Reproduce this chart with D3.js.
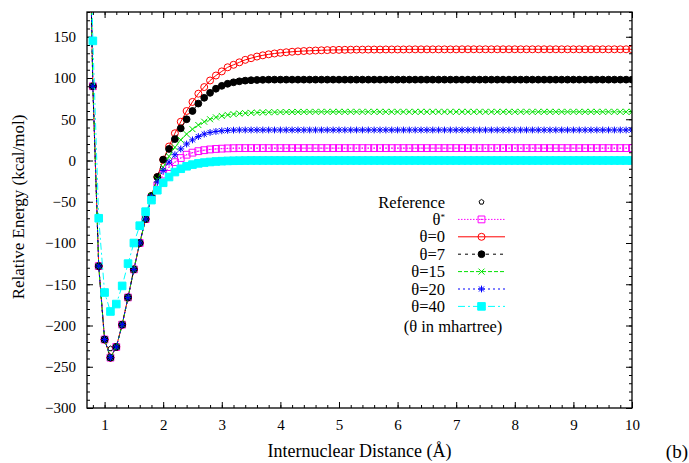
<!DOCTYPE html>
<html>
<head>
<meta charset="utf-8">
<script src="https://cdn.jsdelivr.net/npm/d3@7"></script>
<style>
  body { margin: 0; background: #fff; }
  text { font-family: "Liberation Serif", "Times New Roman", Times, "DejaVu Serif", serif; fill: #000; }
</style>
</head>
<body>
<svg id="chart" width="689" height="463"></svg>
<script>
// internuclear distance grid (angstrom)
const distance = [
  0.7, 0.8, 0.9, 1.0, 1.1, 1.2, 1.3, 1.4, 1.5, 1.6,
  1.7, 1.8, 1.9, 2.0, 2.1, 2.2, 2.3, 2.4, 2.5, 2.6,
  2.7, 2.8, 2.9, 3.0, 3.1, 3.2, 3.3, 3.4, 3.5, 3.6,
  3.7, 3.8, 3.9, 4.0, 4.1, 4.2, 4.3, 4.4, 4.5, 4.6,
  4.7, 4.8, 4.9, 5.0, 5.1, 5.2, 5.3, 5.4, 5.5, 5.6,
  5.7, 5.8, 5.9, 6.0, 6.1, 6.2, 6.3, 6.4, 6.5, 6.6,
  6.7, 6.8, 6.9, 7.0, 7.1, 7.2, 7.3, 7.4, 7.5, 7.6,
  7.7, 7.8, 7.9, 8.0, 8.1, 8.2, 8.3, 8.4, 8.5, 8.6,
  8.7, 8.8, 8.9, 9.0, 9.1, 9.2, 9.3, 9.4, 9.5, 9.6,
  9.7, 9.8, 9.9, 10.0
];

const reference = [
  455, 90, -128, -217, -228, -227, -199, -166, -132, -100,
  -71, -45, -34, -26, -20, -14, -10, -7, -5, -3.5,
  -2.5, -1.8, -1.2, -0.8, -0.5, -0.3, -0.2, -0.1, 0, 0,
  0, 0, 0, 0, 0, 0, 0, 0, 0, 0,
  0, 0, 0, 0, 0, 0, 0, 0, 0, 0,
  0, 0, 0, 0, 0, 0, 0, 0, 0, 0,
  0, 0, 0, 0, 0, 0, 0, 0, 0, 0,
  0, 0, 0, 0, 0, 0, 0, 0, 0, 0,
  0, 0, 0, 0, 0, 0, 0, 0, 0, 0,
  0, 0, 0, 0
];

const thetaStar = [
  455, 90, -128, -217, -239, -226, -199, -166, -132, -100,
  -71, -45, -30, -17, -8, -2, 3, 7, 9.5, 11.3,
  12.5, 13.4, 14, 14.4, 14.7, 14.9, 15, 15, 15, 15,
  15, 15, 15, 15, 15, 15, 15, 15, 15, 15,
  15, 15, 15, 15, 15, 15, 15, 15, 15, 15,
  15, 15, 15, 15, 15, 15, 15, 15, 15, 15,
  15, 15, 15, 15, 15, 15, 15, 15, 15, 15,
  15, 15, 15, 15, 15, 15, 15, 15, 15, 15,
  15, 15, 15, 15, 15, 15, 15, 15, 15, 15,
  15, 15, 15, 15
];

const theta0 = [
  455, 90, -128, -217, -239, -226, -199, -166, -132, -100,
  -71, -43, -20, 1, 17, 33, 47, 60, 71, 81,
  89, 97, 103, 108, 113, 116, 119, 122, 124, 126,
  127.5, 128.7, 129.7, 130.5, 131.2, 131.8, 132.3, 132.7, 133, 133.3,
  133.6, 133.8, 134, 134.1, 134.2, 134.3, 134.4, 134.4, 134.5, 134.5,
  134.5, 134.6, 134.6, 134.6, 134.6, 134.7, 134.7, 134.7, 134.7, 134.7,
  134.7, 134.7, 134.7, 134.7, 134.8, 134.8, 134.8, 134.8, 134.8, 134.8,
  134.8, 134.8, 134.8, 134.8, 134.8, 134.8, 134.8, 134.8, 134.8, 134.8,
  134.8, 134.8, 134.8, 134.8, 134.8, 134.8, 134.8, 134.8, 134.8, 134.8,
  134.8, 134.8, 134.8, 134.8
];

const theta7 = [
  455, 90, -128, -217, -239, -226, -199, -166, -132, -100,
  -71, -43, -20, 1, 14, 26, 39, 50, 60, 69,
  76, 82, 87, 90.5, 93, 94.8, 96, 96.8, 97.3, 97.6,
  97.8, 98, 98, 98, 98, 98, 98, 98, 98, 98,
  98, 98, 98, 98, 98, 98, 98, 98, 98, 98,
  98, 98, 98, 98, 98, 98, 98, 98, 98, 98,
  98, 98, 98, 98, 98, 98, 98, 98, 98, 98,
  98, 98, 98, 98, 98, 98, 98, 98, 98, 98,
  98, 98, 98, 98, 98, 98, 98, 98, 98, 98,
  98, 98, 98, 98
];

const theta15 = [
  455, 90, -128, -217, -239, -226, -199, -166, -132, -100,
  -71, -43, -23, -8, 5, 16, 25, 32, 38, 43,
  47, 50, 52.3, 54, 55.3, 56.2, 56.9, 57.4, 57.8, 58.1,
  58.3, 58.5, 58.6, 58.7, 58.8, 58.8, 58.9, 58.9, 58.9, 59,
  59, 59, 59, 59, 59, 59, 59, 59, 59, 59,
  59, 59, 59, 59, 59, 59, 59, 59, 59, 59,
  59, 59, 59, 59, 59, 59, 59, 59, 59, 59,
  59, 59, 59, 59, 59, 59, 59, 59, 59, 59,
  59, 59, 59, 59, 59, 59, 59, 59, 59, 59,
  59, 59, 59, 59
];

const theta20 = [
  455, 90, -128, -217, -239, -226, -199, -166, -132, -100,
  -71, -44, -26, -12, -2, 7, 14, 20, 25, 29,
  32, 34, 35.2, 36, 36.5, 36.8, 37, 37, 37, 37,
  37, 37, 37, 37, 37, 37, 37, 37, 37, 37,
  37, 37, 37, 37, 37, 37, 37, 37, 37, 37,
  37, 37, 37, 37, 37, 37, 37, 37, 37, 37,
  37, 37, 37, 37, 37, 37, 37, 37, 37, 37,
  37, 37, 37, 37, 37, 37, 37, 37, 37, 37,
  37, 37, 37, 37, 37, 37, 37, 37, 37, 37,
  37, 37, 37, 37
];

const theta40 = [
  500, 145, -70, -160, -183, -174, -152, -125, -100, -79,
  -62, -48, -36, -27, -20, -14, -10, -7, -5, -3.5,
  -2.5, -1.8, -1.2, -0.8, -0.5, -0.3, -0.2, -0.1, 0, 0,
  0, 0, 0, 0, 0, 0, 0, 0, 0, 0,
  0, 0, 0, 0, 0, 0, 0, 0, 0, 0,
  0, 0, 0, 0, 0, 0, 0, 0, 0, 0,
  0, 0, 0, 0, 0, 0, 0, 0, 0, 0,
  0, 0, 0, 0, 0, 0, 0, 0, 0, 0,
  0, 0, 0, 0, 0, 0, 0, 0, 0, 0,
  0, 0, 0, 0
];

const xTicks = [1, 2, 3, 4, 5, 6, 7, 8, 9, 10];
const yTicks = [150, 100, 50, 0, -50, -100, -150, -200, -250, -300];

const serif = '"Liberation Serif", "Times New Roman", Times, "DejaVu Serif", serif';

// marker shapes, centred on 0,0
const markers = {
  pentagon: r => {
    const pts = d3.range(5).map(i => {
      const a = -Math.PI / 2 + i * 2 * Math.PI / 5;
      return [r * Math.cos(a), r * Math.sin(a)];
    });
    return 'M' + pts.join('L') + 'Z';
  },
  square: r => `M${-r},${-r}h${2 * r}v${2 * r}h${-2 * r}Z`,
  circle: r => `M${-r},0a${r},${r} 0 1 0 ${2 * r},0a${r},${r} 0 1 0 ${-2 * r},0Z`,
  cross: r => `M${-r},${-r}L${r},${r}M${-r},${r}L${r},${-r}`,
  star: r => `M${-r},0H${r}M0,${-r}V${r}M${-r * 0.75},${-r * 0.75}L${r * 0.75},${r * 0.75}M${-r * 0.75},${r * 0.75}L${r * 0.75},${-r * 0.75}`,
};

const series = [
  { name: 'Reference', values: reference, color: '#000', dash: null, line: false, marker: 'pentagon', size: 2.6, fill: 'none' },
  { name: 'θ*', values: thetaStar, color: '#ff00ff', dash: '1.5,1.5', line: true, marker: 'square', size: 3.4, fill: 'none', dot: true },
  { name: 'θ=0', values: theta0, color: '#ff0000', dash: null, line: true, marker: 'circle', size: 3.5, fill: 'none' },
  { name: 'θ=7', values: theta7, color: '#000', dash: '3,4', line: true, marker: 'circle', size: 3.4, fill: '#000' },
  { name: 'θ=15', values: theta15, color: '#00e000', dash: '4,2', line: true, marker: 'cross', size: 3, fill: 'none' },
  { name: 'θ=20', values: theta20, color: '#0000ff', dash: '2,3', line: true, marker: 'star', size: 3.4, fill: 'none' },
  { name: 'θ=40', values: theta40, color: '#00ffff', dash: '7,3,2,3', line: true, marker: 'square', size: 3.8, fill: '#00ffff' },
];

const svg = d3.select('#chart');
const margin = { top: 12, right: 57, bottom: 55, left: 87 };
const W = 689, H = 463;

const x = d3.scaleLinear().domain([0.7, 10]).range([margin.left, W - margin.right]);
const y = d3.scaleLinear().domain([-300, 180]).range([H - margin.bottom, margin.top]);

const plotBottom = y.range()[0], plotTop = y.range()[1];
const plotLeft = x.range()[0], plotRight = x.range()[1];

svg.append('defs').append('clipPath').attr('id', 'plot-clip')
  .append('rect')
  .attr('x', plotLeft).attr('y', plotTop)
  .attr('width', plotRight - plotLeft)
  .attr('height', plotBottom - plotTop);

// axes (ticks point inward, mirrored on top / right)
const xMinor = d3.range(0.8, 10.01, 0.2).map(v => +v.toFixed(1));
const yMinor = d3.range(-300, 181, 10);

function styleAxis(g) {
  g.attr('font-family', serif);
  g.select('.domain').remove();
  g.selectAll('line').attr('stroke', '#000').attr('stroke-width', 1);
  g.selectAll('text').style('font-size', '15px').style('font-family', serif);
}

svg.append('g').attr('transform', `translate(0,${plotBottom})`)
  .call(d3.axisBottom(x).tickValues(xMinor).tickSize(-3).tickFormat(''))
  .call(styleAxis);
svg.append('g').attr('transform', `translate(0,${plotBottom})`)
  .call(d3.axisBottom(x).tickValues(xTicks).tickSize(-6).tickPadding(11).tickFormat(d3.format('d')))
  .call(styleAxis);
svg.append('g').attr('transform', `translate(0,${plotTop})`)
  .call(d3.axisTop(x).tickValues(xMinor).tickSize(-3).tickFormat(''))
  .call(styleAxis);
svg.append('g').attr('transform', `translate(0,${plotTop})`)
  .call(d3.axisTop(x).tickValues(xTicks).tickSize(-6).tickFormat(''))
  .call(styleAxis);

svg.append('g').attr('transform', `translate(${plotLeft},0)`)
  .call(d3.axisLeft(y).tickValues(yMinor).tickSize(-3).tickFormat(''))
  .call(styleAxis);
svg.append('g').attr('transform', `translate(${plotLeft},0)`)
  .call(d3.axisLeft(y).tickValues(yTicks).tickSize(-6).tickPadding(11))
  .call(styleAxis);
svg.append('g').attr('transform', `translate(${plotRight},0)`)
  .call(d3.axisRight(y).tickValues(yMinor).tickSize(-3).tickFormat(''))
  .call(styleAxis);
svg.append('g').attr('transform', `translate(${plotRight},0)`)
  .call(d3.axisRight(y).tickValues(yTicks).tickSize(-6).tickFormat(''))
  .call(styleAxis);

// curves
const plot = svg.append('g').attr('clip-path', 'url(#plot-clip)');
const line = d3.line().x((d, i) => x(distance[i])).y(d => y(d));

function drawMarker(g, s, cx, cy) {
  g.append('path')
    .attr('transform', `translate(${cx},${cy})`)
    .attr('d', markers[s.marker](s.size))
    .attr('stroke', s.color)
    .attr('stroke-width', 1)
    .attr('fill', s.fill);
  if (s.dot) {
    g.append('rect').attr('x', cx - 0.6).attr('y', cy - 0.6)
      .attr('width', 1.2).attr('height', 1.2).attr('fill', s.color);
  }
}

series.forEach(s => {
  const g = plot.append('g');
  if (s.line) {
    g.append('path')
      .attr('d', line(s.values))
      .attr('fill', 'none')
      .attr('stroke', s.color)
      .attr('stroke-width', 1)
      .attr('stroke-dasharray', s.dash);
  }
  s.values.forEach((v, i) => drawMarker(g, s, x(distance[i]), y(v)));
});

// border
svg.append('rect')
  .attr('x', plotLeft).attr('y', plotTop)
  .attr('width', plotRight - plotLeft).attr('height', plotBottom - plotTop)
  .attr('fill', 'none').attr('stroke', '#000').attr('stroke-width', 1.3);

// legend
const legend = svg.append('g').style('font-size', '16.5px').style('font-family', serif);
const legX = 445, lineX0 = 458, lineX1 = 505, rowY0 = 202, rowH = 17.4;
series.forEach((s, i) => {
  const cy = rowY0 + i * rowH;
  const t = legend.append('text')
    .attr('x', legX).attr('y', cy + 5.5)
    .attr('text-anchor', 'end');
  if (s.name === 'θ*') {
    t.text('θ');
    t.append('tspan').attr('dy', -5).style('font-size', '9px').text('*');
  } else {
    t.text(s.name);
  }
  if (s.line) {
    legend.append('line')
      .attr('x1', lineX0).attr('x2', lineX1).attr('y1', cy).attr('y2', cy)
      .attr('stroke', s.color).attr('stroke-width', 1)
      .attr('stroke-dasharray', s.dash);
  }
  drawMarker(legend, s, (lineX0 + lineX1) / 2, cy);
});
legend.append('text')
  .attr('x', 453).attr('y', 332)
  .attr('text-anchor', 'middle')
  .style('font-size', '16.5px')
  .text('(θ in mhartree)');

// axis titles
svg.append('text')
  .attr('transform', `translate(24,${(plotTop + plotBottom) / 2 - 3}) rotate(-90)`)
  .attr('text-anchor', 'middle')
  .style('font-size', '17px')
  .text('Relative Energy (kcal/mol)');
svg.append('text')
  .attr('x', (plotLeft + plotRight) / 2).attr('y', 457)
  .attr('text-anchor', 'middle')
  .style('font-size', '18px')
  .text('Internuclear Distance (Å)');
svg.append('text')
  .attr('x', 688).attr('y', 458)
  .attr('text-anchor', 'end')
  .style('font-size', '19px')
  .text('(b)');
</script>
</body>
</html>
